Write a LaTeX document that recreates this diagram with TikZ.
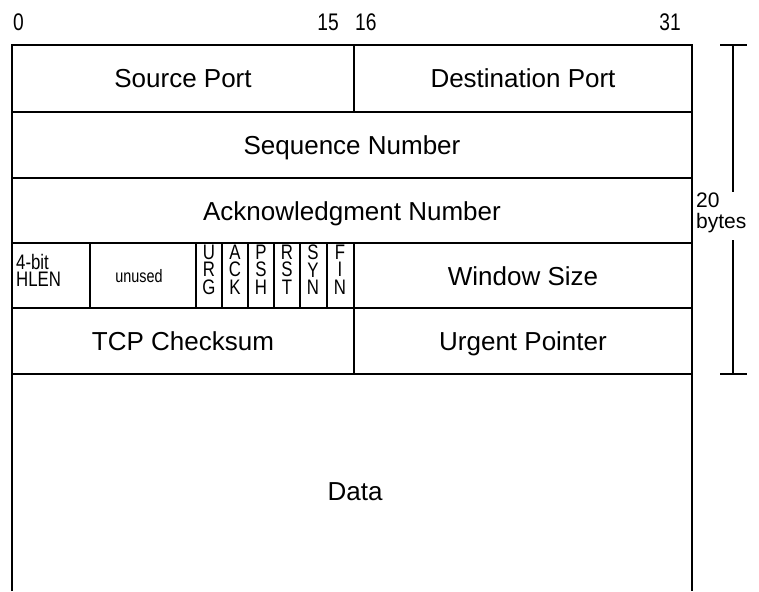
\documentclass[tikz,border=0pt]{standalone}
\usepackage{fontspec}
\setmainfont{Liberation Sans}
\newfontfamily\condfont[FakeStretch=0.8]{Liberation Sans}
\begin{document}
\begin{tikzpicture}[x=1pt,y=-1pt,
  frame/.style={line width=1.3pt,black},
  big/.style={font=\fontsize{26}{28}\selectfont,inner sep=0pt,anchor=base},
  hdr/.style={font=\condfont\fontsize{24}{24}\selectfont,inner sep=0pt},
  small/.style={font=\condfont\fontsize{21}{17.5}\selectfont,inner sep=0pt,align=left},
  flag/.style={font=\condfont\fontsize{21}{17.3}\selectfont,inner sep=0pt,align=center},
  tiny/.style={font=\condfont\fontsize{18}{18}\selectfont,inner sep=0pt}]
\useasboundingbox (0,0) rectangle (759,591);
% frame
\draw[frame] (12,591) -- (12,45) -- (692,45) -- (692,591);
\foreach \y in {112,178,243,308,374} \draw[frame] (12,\y) -- (692,\y);
\draw[frame] (354,45) -- (354,112);
\draw[frame] (354,243) -- (354,374);
\foreach \x in {90,196,222,248,274,300,327} \draw[frame] (\x,243) -- (\x,308);
% bracket
\draw[frame] (720,45) -- (747,45);
\draw[frame] (720,374) -- (747,374);
\draw[frame] (733,45) -- (733,192);
\draw[frame] (733,240) -- (733,374);
% header numbers
\node[hdr,anchor=base west] (n0) at (13,31) {0};
\node[hdr,anchor=base east] (n15) at (339,31) {15};
\node[hdr,anchor=base west] (n16) at (355,31) {16};
\node[hdr,anchor=base east] (n31) at (681,31) {31};
% labels
\node[big] (sp) at (183,88) {Source Port};
\node[big] (dp) at (523,88) {Destination Port};
\node[big] (sn) at (352,154) {Sequence Number};
\node[big] (an) at (352,220) {Acknowledgment Number};
\node[small,anchor=north west] (hl) at (16,254) {4-bit\\HLEN};
\node[tiny] (un) at (139,276) {unused};
\node[flag,anchor=north] (urg) at (209,245) {U\\R\\G};
\node[flag,anchor=north] (ack) at (235,245) {A\\C\\K};
\node[flag,anchor=north] (psh) at (261,245) {P\\S\\H};
\node[flag,anchor=north] (rst) at (287,245) {R\\S\\T};
\node[flag,anchor=north] (syn) at (313,245) {S\\Y\\N};
\node[flag,anchor=north] (fin) at (340,245) {F\\I\\N};
\node[big] (ws) at (523,285) {Window Size};
\node[big] (tc) at (183,350) {TCP Checksum};
\node[big] (up) at (523,350) {Urgent Pointer};
\node[big] (da) at (355,500) {Data};
\node[anchor=north west,align=left,inner sep=0pt,font=\fontsize{21}{21}\selectfont] (by) at (696,193) {20\\bytes};
\end{tikzpicture}
\end{document}
